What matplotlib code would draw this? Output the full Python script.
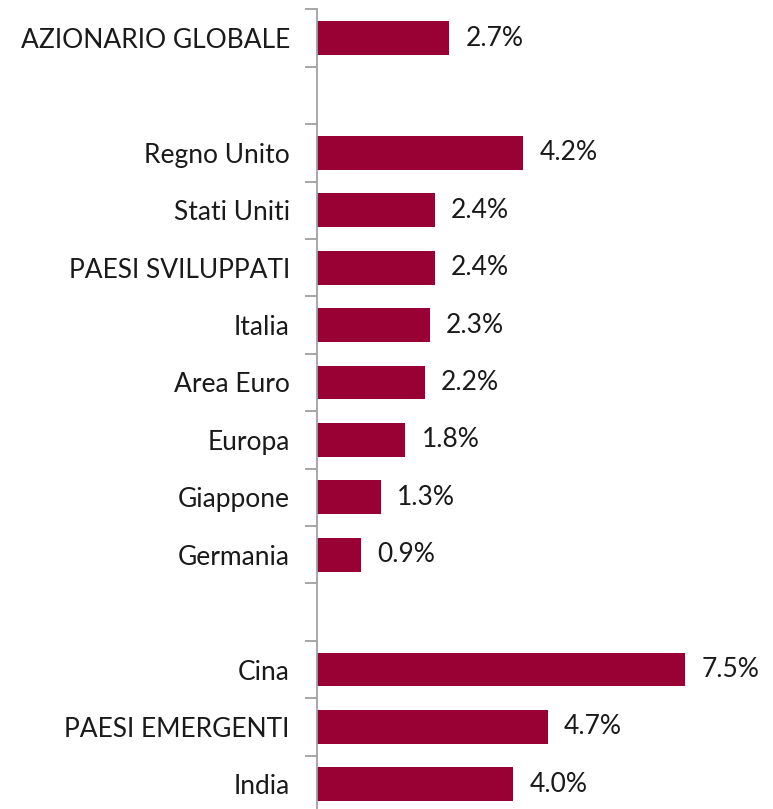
import numpy as np
import matplotlib.pyplot as plt

plt.rcParams['font.family'] = ['Lato', 'DejaVu Sans']

# rows from top to bottom, "" = empty spacer row
categories = ["AZIONARIO GLOBALE", "", "Regno Unito", "Stati Uniti", "PAESI SVILUPPATI",
              "Italia", "Area Euro", "Europa", "Giappone", "Germania", "",
              "Cina", "PAESI EMERGENTI", "India"]
values = [2.7, None, 4.2, 2.4, 2.4, 2.3, 2.2, 1.8, 1.3, 0.9, None, 7.5, 4.7, 4.0]

bar_color = "#990033"

fig = plt.figure(figsize=(7.73, 8.09), dpi=100)
ax = fig.add_axes([0.410, -0.005, 0.59, 0.9935])

n = len(categories)
y = np.arange(n)
for i, v in enumerate(values):
    if v is None:
        continue
    ax.barh(i, v, height=0.59, color=bar_color)
    ax.text(v + 0.33, i, f"{v:.1f}%", va="center", ha="left", fontsize=19, color="#1a1a1a")

ax.set_ylim(n - 0.5, -0.5)
ax.set_xlim(0, 9.29)
ax.set_yticks(y)
ax.set_yticklabels(categories, fontsize=19, color="#1a1a1a")
ax.tick_params(axis="y", length=0, pad=19.5)
ax.set_yticks(np.arange(-0.5, n, 1), minor=True)
ax.tick_params(axis="y", which="minor", length=9, width=1.3, color="#a0a0a0")
ax.set_xticks([])
for s in ["top", "right", "bottom"]:
    ax.spines[s].set_visible(False)
ax.spines["left"].set_color("#a0a0a0")
ax.spines["left"].set_linewidth(1.3)

fig.savefig("out.png", dpi=100)
